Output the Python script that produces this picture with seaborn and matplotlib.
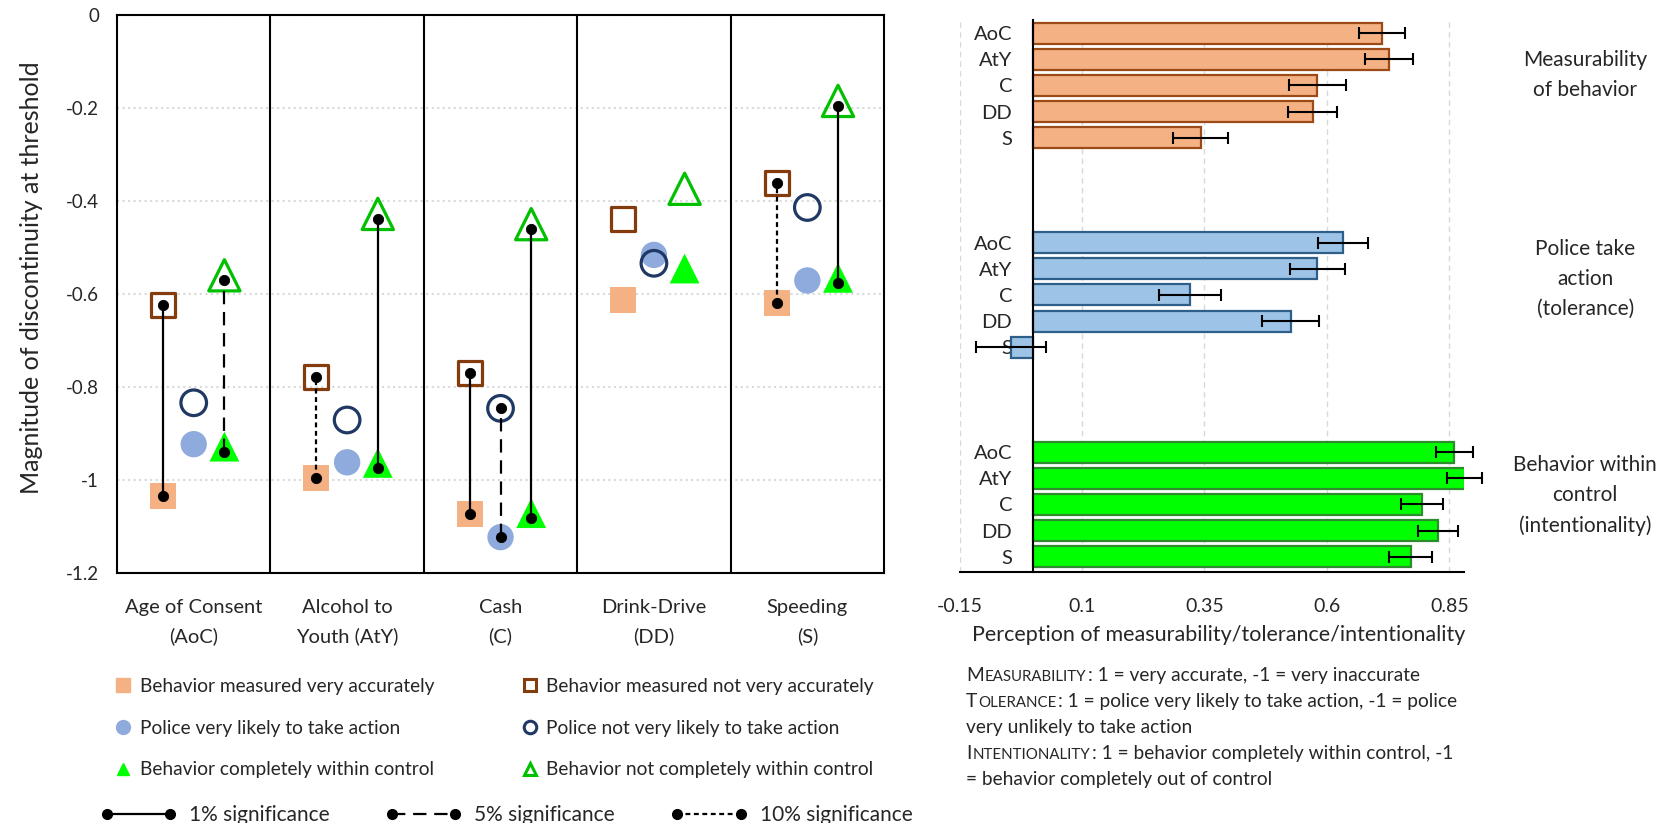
import numpy as np
import seaborn as sns
import matplotlib.pyplot as plt
from matplotlib.lines import Line2D
from matplotlib.path import Path

sns.set_style("white")
plt.rcParams['font.family'] = ['Lato', 'DejaVu Sans']

# ---------------- left panel data: magnitude of discontinuity at threshold
categories = ["Age of Consent\n(AoC)", "Alcohol to\nYouth (AtY)", "Cash\n(C)",
              "Drink-Drive\n(DD)", "Speeding\n(S)"]
meas_acc = [-1.035, -0.996, -1.073, -0.612, -0.619]      # behavior measured very accurately
meas_not = [-0.623, -0.778, -0.769, -0.439, -0.362]      # measured not very accurately
pol_likely = [-0.923, -0.962, -1.123, -0.516, -0.571]    # police very likely to take action
pol_not = [-0.834, -0.871, -0.846, -0.534, -0.414]       # police not very likely
ctrl_within = [-0.939, -0.974, -1.082, -0.556, -0.576]   # completely within control
ctrl_not = [-0.571, -0.439, -0.461, -0.385, -0.196]      # not completely within control
# significance of the difference inside each pair (None = not significant)
meas_sig = ['1%', '10%', '1%', None, '10%']
pol_sig = [None, None, '5%', None, None]
ctrl_sig = ['5%', '1%', '1%', None, '1%']

# ---------------- right panel data: perception (mean, error)
bar_labels = ["AoC", "AtY", "C", "DD", "S"]
measurability = [0.712, 0.727, 0.580, 0.571, 0.342]
measurability_err = [0.047, 0.049, 0.058, 0.050, 0.057]
tolerance = [0.633, 0.580, 0.321, 0.526, -0.045]
tolerance_err = [0.051, 0.056, 0.063, 0.058, 0.072]
intentionality = [0.860, 0.881, 0.794, 0.827, 0.771]
intentionality_err = [0.038, 0.036, 0.043, 0.041, 0.044]
group_names = ["Measurability\nof behavior", "Police take\naction\n(tolerance)",
               "Behavior within\ncontrol\n(intentionality)"]

sig_styles = {'1%': '-', '5%': (0, (6, 3.5)), '10%': (0, (2.2, 1.6))}

c_sq, c_sq_e = '#F4B183', '#843C0C'
c_ci, c_ci_e = '#8FAADC', '#1F3864'
c_tr, c_tr_e = '#00FF00', '#00C000'

# triangle centred on its centroid (like excel)
tri = Path([(0, 1), (-0.75, -0.5), (0.75, -0.5), (0, 1)],
           [Path.MOVETO, Path.LINETO, Path.LINETO, Path.CLOSEPOLY])

fig = plt.figure(figsize=(16.74, 8.23), dpi=100)
ax1 = fig.add_axes([0.0699, 0.3038, 0.4582, 0.678])
ax2 = fig.add_axes([0.5732, 0.305, 0.3014, 0.6707])

# ================= left panel
xs = np.arange(len(categories))
offs = [-0.2, 0.0, 0.2]
sns.scatterplot(x=xs + offs[0], y=meas_acc, marker='s', s=350, color=c_sq, edgecolor='none', ax=ax1, zorder=3)
sns.scatterplot(x=xs + offs[0], y=meas_not, marker='s', s=300, color=c_sq_e, facecolor='none',
                edgecolor=c_sq_e, linewidth=2.3, ax=ax1, zorder=3)
sns.scatterplot(x=xs + offs[1], y=pol_likely, marker='o', s=360, color=c_ci, edgecolor='none', ax=ax1, zorder=3)
sns.scatterplot(x=xs + offs[1], y=pol_not, marker='o', s=340, color=c_ci_e, facecolor='none',
                edgecolor=c_ci_e, linewidth=2.3, ax=ax1, zorder=3)
sns.scatterplot(x=xs + offs[2], y=ctrl_within, marker=tri, s=820, color=c_tr, edgecolor='none', ax=ax1, zorder=3)
sns.scatterplot(x=xs + offs[2], y=ctrl_not, marker=tri, s=900, color=c_tr_e, facecolor='none',
                edgecolor=c_tr_e, linewidth=2.3, ax=ax1, zorder=3)

pairs = [(meas_acc, meas_not, meas_sig, offs[0]),
         (pol_likely, pol_not, pol_sig, offs[1]),
         (ctrl_within, ctrl_not, ctrl_sig, offs[2])]
for lo, hi, sig, off in pairs:
    for i in range(len(categories)):
        if sig[i] is None:
            continue
        ax1.plot([i + off, i + off], [lo[i], hi[i]], color='black', lw=1.6,
                 linestyle=sig_styles[sig[i]], zorder=4)
        sns.scatterplot(x=[i + off, i + off], y=[lo[i], hi[i]], s=55, color='black',
                        edgecolor='black', ax=ax1, zorder=5)

for i in range(len(categories) - 1):
    ax1.axvline(i + 0.5, color='black', lw=1.5, zorder=2)
ax1.set_xlim(-0.5, len(categories) - 0.5)
ax1.set_ylim(-1.2, 0)
ax1.set_yticks([0, -0.2, -0.4, -0.6, -0.8, -1.0, -1.2])
ax1.set_yticklabels(['0', '-0.2', '-0.4', '-0.6', '-0.8', '-1', '-1.2'], fontsize=13.5)
ax1.set_xticks(xs)
ax1.set_xticklabels(categories, fontsize=14.5, linespacing=1.75)
ax1.tick_params(axis='x', length=0, pad=18.5)
ax1.tick_params(axis='y', length=0, pad=13)
ax1.yaxis.grid(True, color='#d9d9d9', linestyle=':', lw=1.5)
ax1.set_axisbelow(True)
for sp in ax1.spines.values():
    sp.set_color('black')
    sp.set_linewidth(1.5)
ax1.set_ylabel("Magnitude of discontinuity at threshold", fontsize=18)
ax1.yaxis.set_label_coords(-0.097, 0.53)

# ================= right panel
groups = [(measurability, measurability_err, 0, '#F4B183', '#9C4A17'),
          (tolerance, tolerance_err, 8, '#9DC3E6', '#2E5F8A'),
          (intentionality, intentionality_err, 16, '#00FF00', '#2E8B2E')]
all_pos, all_lab = [], []
for vals, errs, start, fc, ec in groups:
    pos = [start + i for i in range(len(vals))]
    sns.barplot(x=vals, y=pos, orient='y', native_scale=True, color=fc, saturation=1,
                edgecolor=ec, linewidth=1.6, width=0.8, errorbar=None, ax=ax2, zorder=2)
    ax2.errorbar(vals, pos, xerr=errs, fmt='none', ecolor='black', elinewidth=1.5,
                 capsize=4.5, capthick=1.5, zorder=3, clip_on=False)
    all_pos += pos
    all_lab += bar_labels

ax2.spines['left'].set_position(('data', 0))
ax2.set_ylim(20.58, -0.5)
ax2.set_xlim(-0.15, 0.88)
ax2.set_yticks(all_pos)
ax2.set_yticklabels(all_lab)
ax2.set_xticks([-0.15, 0.1, 0.35, 0.6, 0.85])
ax2.set_xticklabels(['-0.15', '0.1', '0.35', '0.6', '0.85'])
ax2.set_xlabel('')
ax2.set_ylabel('')
ax2.tick_params(axis='y', length=0, pad=15, labelsize=14.5)
ax2.tick_params(axis='x', length=0, pad=19, labelsize=14)
ax2.spines['left'].set_color('black')
ax2.spines['left'].set_linewidth(1.5)
ax2.spines['left'].set_zorder(4)
ax2.spines['bottom'].set_color('black')
ax2.spines['bottom'].set_linewidth(1.5)
ax2.spines['top'].set_visible(False)
ax2.spines['right'].set_visible(False)
ax2.xaxis.grid(True, color='#d9d9d9', linestyle=(0, (4, 3)), lw=1)
ax2.yaxis.grid(False)
ax2.set_axisbelow(True)

fig.text(0.728, 0.229, "Perception of measurability/tolerance/intentionality",
         fontsize=15.5, ha='center', va='center')

for name, yc in zip(group_names, [0.909, 0.661, 0.398]):
    fig.text(0.947, yc, name, fontsize=15, ha='center', va='center', linespacing=1.62)

# ================= notes with small caps
renderer = fig.canvas.get_renderer()
fs_note, fs_sc = 13.8, 10.8


def note_line(x, y, parts):
    for txt, size in parts:
        t = fig.text(x, y, txt, fontsize=size, va='baseline', ha='left')
        x += t.get_window_extent(renderer).width / fig.bbox.width + 0.0008


xn = 0.577
note_line(xn, 0.1725, [("M", fs_note), ("EASURABILITY", fs_sc),
                       (": 1 = very accurate, -1 = very inaccurate", fs_note)])
note_line(xn, 0.141, [("T", fs_note), ("OLERANCE", fs_sc),
                      (": 1 = police very likely to take action, -1 = police", fs_note)])
note_line(xn, 0.109, [("very unlikely to take action", fs_note)])
note_line(xn, 0.078, [("I", fs_note), ("NTENTIONALITY", fs_sc),
                      (": 1 = behavior completely within control, -1", fs_note)])
note_line(xn, 0.046, [("= behavior completely out of control", fs_note)])

# ================= legends
h_fill = [Line2D([], [], marker='s', ls='none', ms=10, mfc=c_sq, mec=c_sq),
          Line2D([], [], marker='o', ls='none', ms=10, mfc=c_ci, mec=c_ci),
          Line2D([], [], marker='^', ls='none', ms=9, mfc=c_tr, mec=c_tr)]
h_hollow = [Line2D([], [], marker='s', ls='none', ms=9, mfc='none', mec=c_sq_e, mew=2.2),
            Line2D([], [], marker='o', ls='none', ms=9, mfc='none', mec=c_ci_e, mew=2.2),
            Line2D([], [], marker='^', ls='none', ms=9, mfc='none', mec=c_tr_e, mew=2.2)]
lab_fill = ["Behavior measured very accurately", "Police very likely to take action",
            "Behavior completely within control"]
lab_hollow = ["Behavior measured not very accurately", "Police not very likely to take action",
              "Behavior not completely within control"]
leg_kw = dict(loc='upper left', frameon=False, fontsize=13.8, borderpad=0, borderaxespad=0,
              handlelength=0.9, handletextpad=0.4, labelspacing=1.28)
fig.legend(h_fill, lab_fill, bbox_to_anchor=(0.0685, 0.176), **leg_kw)
fig.legend(h_hollow, lab_hollow, bbox_to_anchor=(0.3115, 0.176), **leg_kw)

h_sig = [Line2D([], [], color='black', lw=1.6, ls=sig_styles[k], marker='o', ms=7)
         for k in ['1%', '5%', '10%']]
fig.legend(h_sig, ["1% significance", "5% significance", "10% significance"],
           bbox_to_anchor=(0.0599, 0.022), loc='upper left', ncol=3, frameon=False, fontsize=15,
           borderpad=0, borderaxespad=0, handlelength=3.65, handletextpad=0.6,
           columnspacing=2.7, numpoints=2)

fig.savefig('out.png', dpi=100)
